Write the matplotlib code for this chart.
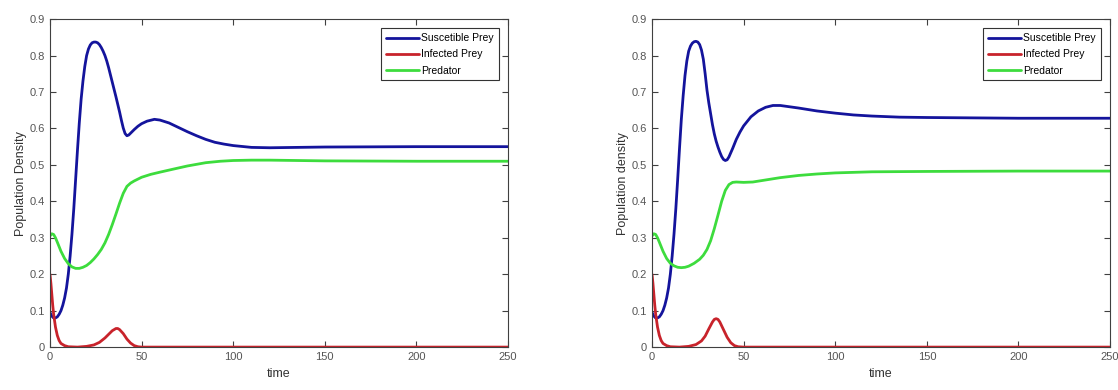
"""Prey-predator population curves, two side-by-side panels (MATLAB look)."""
import numpy as np
import matplotlib
matplotlib.use("Agg")
import matplotlib.pyplot as plt

plt.rcParams["font.family"] = ["Liberation Sans", "DejaVu Sans"]

# ---- left panel -------------------------------------------------------
t_sus_l = [0, 1, 2, 3, 4, 5, 6, 7, 8, 9, 10, 11, 12, 13, 14, 15, 16, 17, 18,
           19, 20, 21, 22, 23, 24, 25, 26, 27, 28, 29, 30, 31, 32, 33, 34, 35,
           36, 37, 38, 39, 40, 41, 42, 43, 44, 46, 48, 50, 53, 57, 60, 65, 70,
           75, 80, 85, 90, 95, 100, 110, 120, 135, 150, 200, 250]
sus_l = [0.095, 0.085, 0.080, 0.080, 0.083, 0.090, 0.100, 0.115, 0.135, 0.162,
         0.200, 0.250, 0.310, 0.380, 0.460, 0.540, 0.615, 0.680, 0.730, 0.770,
         0.800, 0.818, 0.829, 0.835, 0.837, 0.837, 0.835, 0.830, 0.822, 0.812,
         0.800, 0.785, 0.767, 0.747, 0.727, 0.707, 0.687, 0.666, 0.645, 0.622,
         0.601, 0.586, 0.580, 0.582, 0.587, 0.597, 0.606, 0.613, 0.620, 0.625,
         0.623, 0.615, 0.603, 0.591, 0.580, 0.570, 0.562, 0.557, 0.553, 0.548,
         0.547, 0.548, 0.549, 0.550, 0.550]

t_inf_l = [0, 0.5, 1, 1.5, 2, 3, 4, 5, 6, 8, 10, 15, 20, 24, 27, 30, 32, 34,
           36, 37, 38, 40, 42, 44, 46, 48, 50, 60, 100, 250]
inf_l = [0.20, 0.175, 0.145, 0.115, 0.09, 0.055, 0.032, 0.018, 0.010, 0.004,
         0.001, 0.0, 0.002, 0.006, 0.013, 0.025, 0.035, 0.045, 0.051, 0.051,
         0.048, 0.037, 0.022, 0.011, 0.004, 0.001, 0.0, 0.0, 0.0, 0.0]

t_pred_l = [0, 1, 2, 3, 4, 6, 8, 10, 12, 14, 16, 18, 20, 22, 24, 26, 28, 30,
            32, 34, 36, 38, 40, 42, 44, 46, 50, 55, 60, 67, 75, 85, 93, 100,
            110, 120, 150, 200, 250]
pred_l = [0.305, 0.311, 0.309, 0.300, 0.288, 0.263, 0.243, 0.229, 0.220,
          0.216, 0.216, 0.219, 0.224, 0.232, 0.242, 0.254, 0.268, 0.286,
          0.309, 0.336, 0.365, 0.395, 0.422, 0.441, 0.450, 0.456, 0.466,
          0.474, 0.480, 0.488, 0.497, 0.506, 0.510, 0.512, 0.513, 0.513,
          0.511, 0.510, 0.510]

# ---- right panel ------------------------------------------------------
t_sus_r = [0, 1, 2, 3, 4, 5, 6, 7, 8, 9, 10, 11, 12, 13, 14, 15, 16, 17, 18,
           19, 20, 21, 22, 23, 24, 25, 26, 27, 28, 29, 30, 31, 32, 33, 34, 35,
           36, 37, 38, 39, 40, 41, 42, 44, 46, 48, 50, 54, 58, 62, 66, 70, 80,
           90, 100, 110, 120, 135, 150, 200, 250]
sus_r = [0.095, 0.085, 0.080, 0.080, 0.083, 0.090, 0.100, 0.115, 0.135, 0.162,
         0.200, 0.250, 0.310, 0.380, 0.460, 0.545, 0.625, 0.690, 0.745, 0.785,
         0.812, 0.826, 0.834, 0.838, 0.839, 0.837, 0.830, 0.815, 0.790, 0.750,
         0.705, 0.670, 0.640, 0.610, 0.585, 0.565, 0.549, 0.535, 0.523, 0.515,
         0.512, 0.514, 0.522, 0.545, 0.570, 0.590, 0.607, 0.632, 0.648, 0.658,
         0.663, 0.663, 0.656, 0.648, 0.642, 0.637, 0.634, 0.631, 0.630, 0.628,
         0.628]

t_inf_r = [0, 0.5, 1, 1.5, 2, 3, 4, 5, 6, 8, 10, 15, 20, 24, 27, 29, 31, 33,
           34, 35, 36, 37, 39, 41, 43, 45, 47, 50, 60, 100, 250]
inf_r = [0.20, 0.175, 0.145, 0.115, 0.09, 0.055, 0.032, 0.018, 0.010, 0.004,
         0.001, 0.0, 0.002, 0.007, 0.017, 0.030, 0.050, 0.069, 0.076, 0.078,
         0.076, 0.069, 0.048, 0.027, 0.012, 0.004, 0.001, 0.0, 0.0, 0.0, 0.0]

t_pred_r = [0, 1, 2, 3, 4, 6, 8, 10, 12, 14, 16, 18, 20, 23, 26, 28, 30, 32,
            34, 36, 38, 40, 42, 44, 46, 50, 55, 60, 70, 80, 90, 100, 120, 150,
            200, 250]
pred_r = [0.305, 0.311, 0.309, 0.300, 0.288, 0.263, 0.243, 0.230, 0.223,
          0.219, 0.218, 0.219, 0.222, 0.230, 0.241, 0.252, 0.268, 0.292,
          0.325, 0.362, 0.400, 0.430, 0.446, 0.452, 0.453, 0.452, 0.453,
          0.457, 0.465, 0.471, 0.475, 0.478, 0.481, 0.482, 0.483, 0.483]

LABELS = ["Suscetible Prey", "Infected Prey", "Predator"]
COLORS = ["#14149c", "#c8232b", "#3ddc3d"]

panels = [
    ((t_sus_l, sus_l), (t_inf_l, inf_l), (t_pred_l, pred_l), "Population Density"),
    ((t_sus_r, sus_r), (t_inf_r, inf_r), (t_pred_r, pred_r), "Population density"),
]

fig = plt.figure(figsize=(11.18, 3.9), dpi=100)
axes = [fig.add_axes([0.0447, 0.110, 0.4097, 0.841]),
        fig.add_axes([0.5832, 0.110, 0.4097, 0.841])]

for ax, (s, i, p, ylab) in zip(axes, panels):
    for (t, y), lab, col in zip((s, i, p), LABELS, COLORS):
        ax.plot(t, y, color=col, lw=2.0, label=lab, solid_capstyle="round",
                solid_joinstyle="round")
    ax.set_xlim(0, 250)
    ax.set_ylim(0, 0.9)
    ax.set_xticks(np.arange(0, 251, 50))
    ax.set_yticks(np.arange(0, 0.91, 0.1))
    ax.set_yticklabels(["0"] + [f"{v:.1f}" for v in np.arange(0.1, 0.91, 0.1)])
    ax.tick_params(direction="in", top=True, right=True, length=4,
                   labelsize=8, colors="#404040", labelcolor="#555555")
    for sp in ax.spines.values():
        sp.set_color("#404040")
        sp.set_linewidth(0.8)
    ax.set_xlabel("time", fontsize=9, color="#333333", labelpad=4)
    ax.set_ylabel(ylab, fontsize=9, color="#333333", labelpad=2)
    leg = ax.legend(loc="upper right", fontsize=7.5, fancybox=False,
                    edgecolor="#333333", framealpha=1, handlelength=3.2,
                    handletextpad=0.2, borderpad=0.45, labelspacing=0.6,
                    borderaxespad=0.9)
    leg.get_frame().set_linewidth(0.8)

fig.savefig("out.png", dpi=100)
